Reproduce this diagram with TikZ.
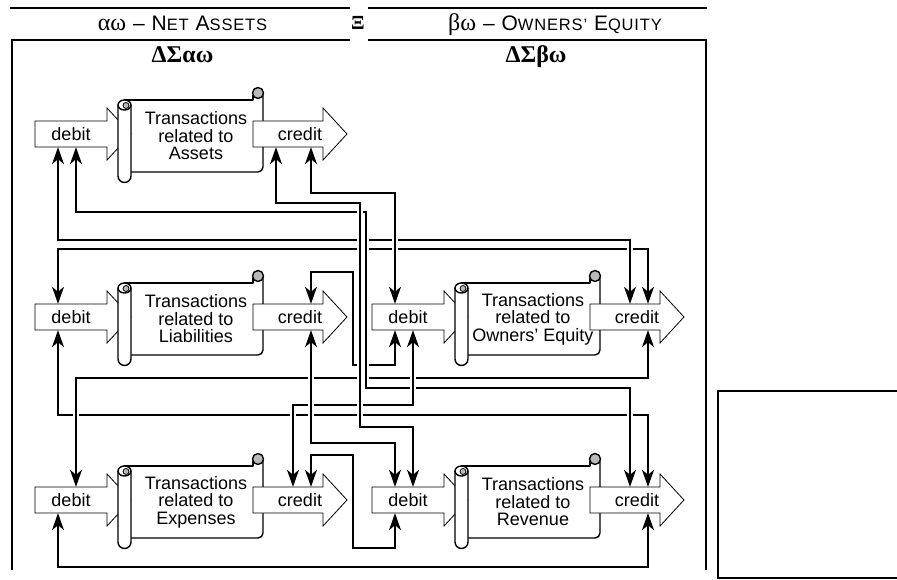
\documentclass[tikz,border=0pt]{standalone}
\usepackage{fontspec}
\setmainfont{Liberation Sans}
\newfontfamily\grkfont{Liberation Serif}
\newfontfamily\ttlfont[LetterSpace=5]{Liberation Sans}
\usetikzlibrary{arrows.meta}
\newcommand\mysc[1]{{\fontsize{16.5}{18}\selectfont #1}}
\newcommand\debitshape[2]{%
  \draw[arrbox] ({#1+35},{#2-13}) -- ({#1+107},{#2-13}) -- ({#1+107},{#2-26}) -- ({#1+131},{#2}) -- ({#1+107},{#2+26}) -- ({#1+107},{#2+13}) -- ({#1+35},{#2+13}) -- cycle;}
\newcommand\creditshape[2]{%
  \draw[arrbox] ({#1+253},{#2-13}) -- ({#1+323},{#2-13}) -- ({#1+323},{#2-26}) -- ({#1+347},{#2}) -- ({#1+323},{#2+26}) -- ({#1+323},{#2+13}) -- ({#1+253},{#2+13}) -- cycle;}
\newcommand\scrollshape[2]{%
  \draw[scr] ({#1+124},{#2-34}) -- ({#1+253},{#2-34}) -- ({#1+253},{#2-39});
  \draw[scr, rounded corners=5pt] ({#1+263},{#2-41}) -- ({#1+263},{#2+38}) -- ({#1+131},{#2+38});
  \draw[scr, fill=gray!55] ({#1+258},{#2-41}) circle[radius=5.5];
  \draw[scr, fill=white] ({#1+118},{#2-29}) -- ({#1+118},{#2+42}) arc[start angle=180, end angle=0, radius=6.5] -- ({#1+131},{#2-29});
  \draw[scr, fill=white] ({#1+124.5},{#2-29}) ellipse[x radius=6.5, y radius=5];
  \draw[line width=0.8pt, fill=gray!55] ({#1+126},{#2-28.5}) circle[radius=3];
}
\tikzset{
  chead/.tip={Stealth[length=17pt,width=12pt,inset=5pt]},
  conn/.style={line width=1.1pt, line join=miter},
  halo/.style={draw=white, line width=6pt},
  arrbox/.style={line width=0.8pt, fill=white, line join=miter},
  scr/.style={line width=1.4pt, line join=round},
  lbl/.style={font=\fontsize{18}{17.5}\selectfont, inner sep=0pt, align=center},
  dnode/.style={lbl, minimum width=72pt, minimum height=26pt},
  cnode/.style={lbl, minimum width=94pt, minimum height=26pt},
  snode/.style={lbl, minimum width=132pt, minimum height=72pt},
  ttl/.style={font=\ttlfont\fontsize{21}{22}\selectfont, inner sep=0pt},
  frame/.style={line width=1.2pt},
}
\begin{document}
\begin{tikzpicture}[x=1pt, y=-1pt]
\useasboundingbox (0,0) rectangle (897,580);
% header and frames
\draw[frame] (10,8) -- (350,8);
\draw[frame] (368,8) -- (707,8);
\draw[frame] (350,40) -- (12,40) -- (12,570);
\draw[frame] (368,40) -- (706,40) -- (706,570);
\node[ttl, anchor=base] (tl) at (182.5,30.5) {{\grkfont\fontsize{24}{24}\selectfont αω} – N\mysc{ET} A\mysc{SSETS}};
\node[ttl, anchor=base] (tr) at (555,30.5) {{\grkfont\fontsize{24}{24}\selectfont βω} – O\mysc{WNERS’} E\mysc{QUITY}};
\node[font=\grkfont\bfseries\fontsize{20}{22}\selectfont, inner sep=0pt, anchor=base] (xi) at (358,30) {Ξ};
\node[font=\grkfont\bfseries\fontsize{24}{26}\selectfont, inner sep=0pt, anchor=base] (sl) at (182.5,63) {ΔΣαω};
\node[font=\grkfont\bfseries\fontsize{24}{26}\selectfont, inner sep=0pt, anchor=base] (sr) at (536,63) {ΔΣβω};
\draw[line width=2.5pt] (899,391) -- (718,391) -- (718,578) -- (899,578);

% row 1: assets
\debitshape{0}{134}
\node[dnode] (dA) at (71,134) {debit};
\scrollshape{0}{134}
\node[snode] (sA) at (196,136) {Transactions\\related to\\Assets};
\creditshape{0}{134}
\node[cnode] (cA) at (300,134) {credit};
% row 2: liabilities
\debitshape{0}{317}
\node[dnode] (dL) at (71,317) {debit};
\scrollshape{0}{317}
\node[snode] (sL) at (196,319) {Transactions\\related to\\Liabilities};
\creditshape{0}{317}
\node[cnode] (cL) at (300,317) {credit};
% row 2: owners' equity
\debitshape{337}{317}
\node[dnode] (dO) at (408,317) {debit};
\scrollshape{337}{317}
\node[snode] (sO) at (533,319) {Transactions\\related to\\Owners’ Equity};
\creditshape{337}{317}
\node[cnode] (cO) at (637,317) {credit};
% row 3: expenses
\debitshape{0}{500}
\node[dnode] (dE) at (71,500) {debit};
\scrollshape{0}{500}
\node[snode] (sE) at (196,502) {Transactions\\related to\\Expenses};
\creditshape{0}{500}
\node[cnode] (cE) at (300,500) {credit};
% row 3: revenue
\debitshape{337}{500}
\node[dnode] (dR) at (408,500) {debit};
\scrollshape{337}{500}
\node[snode] (sR) at (533,502) {Transactions\\related to\\Revenue};
\creditshape{337}{500}
\node[cnode] (cR) at (637,500) {credit};

% lanes
\coordinate (x58) at (58,0);
\coordinate (x76) at (76,0);
\coordinate (x276) at (276,0);
\coordinate (x293) at (293,0);
\coordinate (x311) at (311,0);
\coordinate (x395) at (395,0);
\coordinate (x413) at (413,0);
\coordinate (x630) at (630,0);
\coordinate (x648) at (648,0);

% connectors
\draw[conn, chead-chead] (dA.south -| x58) -- (58,240) -- (630,240) -- (cO.north -| x630);
\draw[conn, chead-chead] (dL.north -| x58) -- (58,249) -- (648,249) -- (cO.north -| x648);
\draw[conn, chead-chead] (dA.south -| x76) -- (76,212) -- (366,212) -- (366,388) -- (630,388) -- (cR.north -| x630);
\draw[conn, chead-chead] (cA.south -| x276) -- (276,203) -- (360,203) -- (360,427) -- (413,427) -- (dR.north -| x413);
\draw[conn, chead-chead] (cA.south -| x311) -- (311,193) -- (395,193) -- (dO.north -| x395);
\draw[conn, chead-chead] (cL.north -| x311) -- (311,272) -- (353,272) -- (353,365) -- (395,365) -- (dO.south -| x395);
\draw[conn, chead-chead] (cL.south -| x311) -- (311,443) -- (395,443) -- (dR.north -| x395);
\draw[conn, chead-chead] (dL.south -| x58) -- (58,415) -- (648,415) -- (cR.north -| x648);
\draw[conn, chead-chead] (dO.south -| x413) -- (413,405) -- (293,405) -- (cE.north -| x293);
\draw[conn, chead-chead] (cO.south -| x648) -- (648,378) -- (76,378) -- (dE.north -| x76);
\draw[conn, chead-chead] (cE.north -| x311) -- (311,455) -- (353,455) -- (353,548) -- (395,548) -- (dR.south -| x395);
\draw[conn, chead-chead] (dE.south -| x58) -- (58,567) -- (648,567) -- (cR.south -| x648);

% line crossings: vertical runs pass over horizontal runs
\draw[halo] (360,209) -- (360,421);  \draw[conn] (360,206) -- (360,424);
\draw[halo] (366,218) -- (366,382);  \draw[conn] (366,215) -- (366,385);
\draw[halo] (395,199) -- (395,280);  \draw[conn] (395,196) -- (395,283);
\draw[halo] (630,244) -- (630,256);  \draw[conn] (630,242) -- (630,258);
\draw[halo] (630,409) -- (630,421);  \draw[conn] (630,407) -- (630,423);
\draw[halo] (311,345) -- (311,437);  \draw[conn] (311,343) -- (311,440);
\draw[halo] (413,352) -- (413,399);  \draw[conn] (413,350) -- (413,402);
\draw[halo] (293,409) -- (293,421);  \draw[conn] (293,407) -- (293,423);
\draw[halo] (76,409) -- (76,421);    \draw[conn] (76,407) -- (76,423);
\end{tikzpicture}
\end{document}
